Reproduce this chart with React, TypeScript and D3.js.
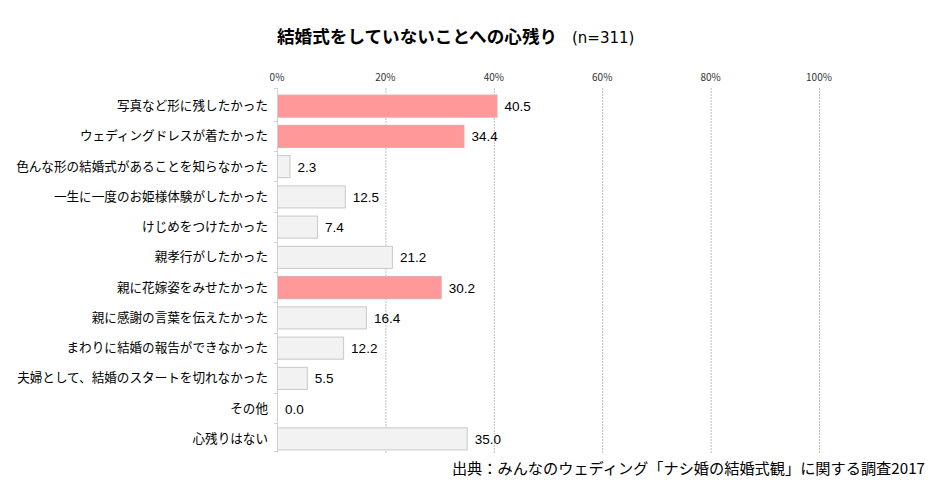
import React from "react";
import * as d3 from "d3";

const categories = [
  "写真など形に残したかった",
  "ウェディングドレスが着たかった",
  "色んな形の結婚式があることを知らなかった",
  "一生に一度のお姫様体験がしたかった",
  "けじめをつけたかった",
  "親孝行がしたかった",
  "親に花嫁姿をみせたかった",
  "親に感謝の言葉を伝えたかった",
  "まわりに結婚の報告ができなかった",
  "夫婦として、結婚のスタートを切れなかった",
  "その他",
  "心残りはない",
];
const values = [40.5, 34.4, 2.3, 12.5, 7.4, 21.2, 30.2, 16.4, 12.2, 5.5, 0.0, 35.0];
const highlighted = [true, true, false, false, false, false, true, false, false, false, false, false];
const ticks = [0, 20, 40, 60, 80, 100];

const FONT = "'Noto Sans CJK JP', 'Noto Sans', sans-serif";
const NUMFONT = "'Liberation Sans', Arial, sans-serif";

export default function App() {
  const W = 940, H = 489;
  const x = d3.scaleLinear().domain([0, 100]).range([277, 819]);
  const y = d3.scaleBand<number>().domain(d3.range(categories.length)).range([90.5, 453.5]).paddingInner(0.27).paddingOuter(0.135);
  const top = 88, bottom = 453;
  return (
    <svg width={W} height={H} style={{ position: "absolute", left: 0, top: 0, background: "#fff" }}>
      <text x={277} y={43} fontFamily={FONT} fontSize={17.6} fontWeight="bold" fill="#000">
        結婚式をしていないことへの心残り
      </text>
      <text x={572} y={43} fontFamily="'DejaVu Sans', sans-serif" fontSize={15} fill="#000">(n=311)</text>
      {ticks.map((t) => (
        <g key={t}>
          <text x={x(t)} y={81} textAnchor="middle" fontFamily={FONT} fontSize={10} fill="#333">{t}%</text>
          {t > 0 && (
            <line x1={x(t) + 0.5} x2={x(t) + 0.5} y1={top} y2={bottom} stroke="#bdbdbd" strokeWidth={1} strokeDasharray="2,1" />
          )}
        </g>
      ))}
      {categories.map((c, i) => {
        const by = y(i)!;
        const bh = y.bandwidth();
        const xv = x(values[i]);
        return (
          <g key={c}>
            {values[i] > 0 && (
              <rect
                x={x(0) + 0.5}
                y={by + 0.5}
                width={xv - x(0)}
                height={bh}
                fill={highlighted[i] ? "#FF9999" : "#F2F2F2"}
                stroke={highlighted[i] ? "#E6A6A6" : "#C8C8C8"}
                strokeWidth={1}
              />
            )}
            <text x={268} y={by + bh / 2 + 4.5} textAnchor="end" fontFamily={FONT} fontSize={12.6} fill="#000">{c}</text>
            <text x={xv + 8} y={by + bh / 2 + 5.5} fontFamily={NUMFONT} fontSize={13.5} fill="#000">{values[i].toFixed(1)}</text>
          </g>
        );
      })}
      {d3.range(categories.length + 1).map((i) => {
        const yy = i === 0 ? top : (y(i - 1)! + y.bandwidth() + (i < categories.length ? y(i)! : bottom)) / 2;
        return <line key={"t" + i} x1={x(0) - 3} x2={x(0)} y1={Math.round(yy) + 0.5} y2={Math.round(yy) + 0.5} stroke="#d0d0d0" />;
      })}
      <line x1={x(0) + 0.5} x2={x(0) + 0.5} y1={top} y2={bottom} stroke="#d0d0d0" />
      <text x={925} y={474} textAnchor="end" fontFamily={FONT} fontSize={15.2} fill="#000">出典：みんなのウェディング「ナシ婚の結婚式観」に関する調査2017</text>
    </svg>
  );
}
